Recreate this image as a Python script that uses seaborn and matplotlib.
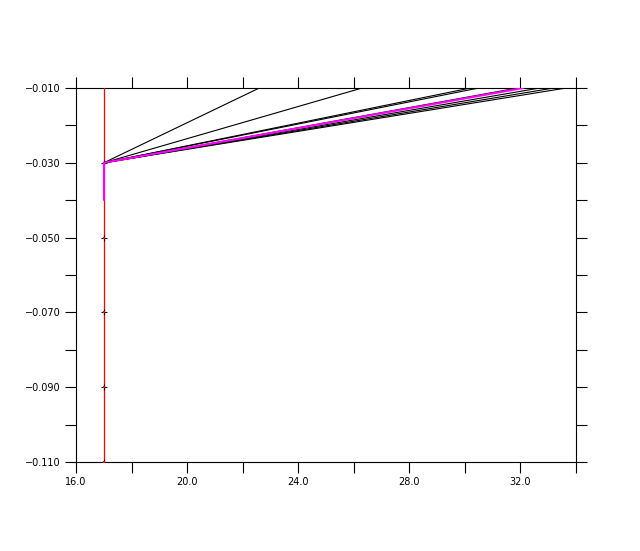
import matplotlib
matplotlib.use("Agg")
import matplotlib.pyplot as plt
import seaborn as sns
import pandas as pd
import numpy as np
from matplotlib.ticker import MultipleLocator

sns.set_style("white")
plt.rcParams['font.family'] = ['DejaVu Sans']

# Data
x_start = 17.0
y_start = -0.03
y_end = -0.01
black_end_x = [22.6, 26.3, 30.2, 30.5, 31.9, 32.7, 33.2, 33.65]
magenta_end_x = 32.1
magenta_profile_y = [-0.03, -0.04]
red_profile_y = [-0.01, -0.03, -0.05, -0.07, -0.09, -0.11]
marker_y = [-0.03, -0.05, -0.07, -0.09, -0.11]
x_ticks = [16, 20, 24, 28, 32]
x_tick_labels = ["16.0", "20.0", "24.0", "28.0", "32.0"]
y_ticks = [-0.11, -0.09, -0.07, -0.05, -0.03, -0.01]
y_tick_labels = ["\u22120.110", "\u22120.090", "\u22120.070", "\u22120.050", "\u22120.030", "\u22120.010"]

rows = []
for i, xe in enumerate(black_end_x):
    rows.append({"id": i, "x": x_start, "y": y_start})
    rows.append({"id": i, "x": xe, "y": y_end})
black_df = pd.DataFrame(rows)

mag_df = pd.DataFrame({"x": [x_start] * len(magenta_profile_y) + [x_start, magenta_end_x],
                       "y": magenta_profile_y[::-1] + [y_start, y_end],
                       "seg": [0] * len(magenta_profile_y) + [1, 1]})
red_df = pd.DataFrame({"x": [x_start] * len(red_profile_y), "y": red_profile_y})
mk_df = pd.DataFrame({"x": [x_start] * len(marker_y), "y": marker_y})

fig = plt.figure(figsize=(6.4, 5.51), dpi=100)
ax = fig.add_axes([76 / 640, 1 - 462 / 551, 500 / 640, 374 / 551])

sns.lineplot(data=black_df, x="x", y="y", units="id", estimator=None, sort=False,
             color="black", lw=0.8, ax=ax, zorder=2)
sns.lineplot(data=red_df, x="x", y="y", sort=False, estimator=None,
             color="red", lw=0.9, ax=ax, zorder=3)
sns.scatterplot(data=mk_df, x="x", y="y", marker="+", color="black", s=18,
                linewidth=0.8, ax=ax, zorder=5)
sns.scatterplot(data=mk_df, x="x", y="y", marker="s", color="red", s=3,
                linewidth=0, ax=ax, zorder=6)
sns.lineplot(data=mag_df, x="x", y="y", units="seg", estimator=None, sort=False,
             color="magenta", lw=1.5, ax=ax, zorder=7)

ax.set_xlim(16, 34)
ax.set_ylim(-0.11, -0.01)
ax.set_xlabel("")
ax.set_ylabel("")
ax.xaxis.set_minor_locator(MultipleLocator(2))
ax.yaxis.set_minor_locator(MultipleLocator(0.01))
ax.set_xticks(x_ticks)
ax.set_xticklabels(x_tick_labels)
ax.set_yticks(y_ticks)
ax.set_yticklabels(y_tick_labels)
ax.tick_params(which="both", direction="out", top=True, right=True, bottom=True, left=True,
               length=8, width=0.8, color="black", labelcolor="black", labelsize=7, pad=3)
ax.tick_params(which="major", labeltop=False, labelright=False)
for s in ax.spines.values():
    s.set_color("black")
    s.set_linewidth(0.8)
if ax.get_legend():
    ax.get_legend().remove()

fig.savefig("out.png", dpi=100)
